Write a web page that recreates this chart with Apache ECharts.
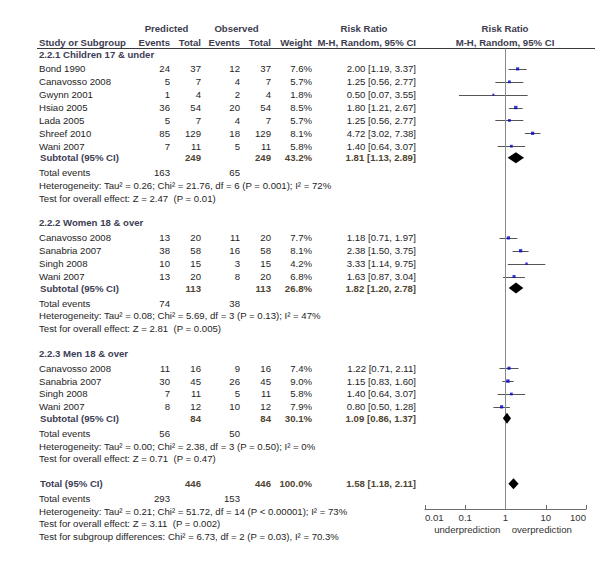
<!DOCTYPE html>
<html><head><meta charset="utf-8">
<script src="https://cdn.jsdelivr.net/npm/echarts@6/dist/echarts.min.js"></script>
<style>html,body{margin:0;padding:0;background:#fff}#c{width:600px;height:583px}</style>
</head><body><div id="c"></div>
<script>
// ---------- DATA ----------
const groupTitles = ['2.2.1 Children 17 & under', '2.2.2 Women 18 & over', '2.2.3 Men 18 & over'];
const studyGroup = [0,0,0,0,0,0,0,1,1,1,1,2,2,2,2];
const studyNames = ['Bond 1990','Canavosso 2008','Gwynn 2001','Hsiao 2005','Lada 2005','Shreef 2010','Wani 2007',
  'Canavosso 2008','Sanabria 2007','Singh 2008','Wani 2007',
  'Canavosso 2008','Sanabria 2007','Singh 2008','Wani 2007'];
const predEvents = [24,5,1,36,5,85,7, 13,38,10,13, 11,30,7,8];
const predTotal  = [37,7,4,54,7,129,11, 20,58,15,20, 16,45,11,12];
const obsEvents  = [12,4,2,20,4,18,5, 11,16,3,8, 9,26,5,10];
const obsTotal   = [37,7,4,54,7,129,11, 20,58,15,20, 16,45,11,12];
const weights    = [7.6,5.7,1.8,8.5,5.7,8.1,5.8, 7.7,8.1,4.2,6.8, 7.4,9.0,5.8,7.9];
const rr         = [2.00,1.25,0.50,1.80,1.25,4.72,1.40, 1.18,2.38,3.33,1.63, 1.22,1.15,1.40,0.80];
const rrLo       = [1.19,0.56,0.07,1.21,0.56,3.02,0.64, 0.71,1.50,1.14,0.87, 0.71,0.83,0.64,0.50];
const rrHi       = [3.37,2.77,3.55,2.67,2.77,7.38,3.07, 1.97,3.75,9.75,3.04, 2.11,1.60,3.07,1.28];

const subPredTotal  = [249,113,84];
const subObsTotal   = [249,113,84];
const subWeight     = [43.2,26.8,30.1];
const subRR         = [1.81,1.82,1.09];
const subLo         = [1.13,1.20,0.86];
const subHi         = [2.89,2.78,1.37];
const subPredEvents = [163,74,56];
const subObsEvents  = [65,38,50];
const subHet = [
  'Heterogeneity: Tau\u00b2 = 0.26; Chi\u00b2 = 21.76, df = 6 (P = 0.001); I\u00b2 = 72%',
  'Heterogeneity: Tau\u00b2 = 0.08; Chi\u00b2 = 5.69, df = 3 (P = 0.13); I\u00b2 = 47%',
  'Heterogeneity: Tau\u00b2 = 0.00; Chi\u00b2 = 2.38, df = 3 (P = 0.50); I\u00b2 = 0%'];
const subTest = [
  'Test for overall effect: Z = 2.47  (P = 0.01)',
  'Test for overall effect: Z = 2.81  (P = 0.005)',
  'Test for overall effect: Z = 0.71  (P = 0.47)'];

const totPredTotal = 446, totObsTotal = 446, totWeight = 100.0;
const totRR = 1.58, totLo = 1.18, totHi = 2.11;
const totPredEvents = 293, totObsEvents = 153;
const totHet = 'Heterogeneity: Tau\u00b2 = 0.21; Chi\u00b2 = 51.72, df = 14 (P < 0.00001); I\u00b2 = 73%';
const totTest = 'Test for overall effect: Z = 3.11  (P = 0.002)';
const totSub = 'Test for subgroup differences: Chi\u00b2 = 6.73, df = 2 (P = 0.03), I\u00b2 = 70.3%';

const axisTicks = [0.01, 0.1, 1, 10, 100];
const axisLabelsText = ['0.01', '0.1', '1', '10', '100'];
const sideLabels = ['underprediction', 'overprediction'];

// ---------- LAYOUT ----------
const FONT = '"Liberation Sans", Arial, sans-serif';
const FS = 9.6;
const X = {name: 39, pe: 170, pt: 201, oe: 240, ot: 271, w: 312, rr: 416};
const C_HEAD = '#3d3d4f', C_TXT = '#1e1e1e', C_SUB = '#3d3d55', C_SUBNUM = '#4f4430';

const fmt2 = v => v.toFixed(2);
const ci = (m, l, h) => fmt2(m) + ' [' + fmt2(l) + ', ' + fmt2(h) + ']';

// vertical placement of lines
let y = 54;
const studyY = [], subY = [], headY = [], teY = [], hetY = [], testY = [];
for (let g = 0; g < groupTitles.length; g++) {
  if (g > 0) y += 24.8;
  headY.push(y);
  let first = true;
  for (let i = 0; i < studyNames.length; i++) {
    if (studyGroup[i] !== g) continue;
    y += first ? 14.9 : 12.88; first = false;
    studyY[i] = y;
  }
  y += 11.5; subY.push(y);
  y += 15.1; teY.push(y);
  y += 12.8; hetY.push(y);
  y += 12.6; testY.push(y);
}
const totY = y + 24.8, totTEY = totY + 14.7, totHetY = totTEY + 12.8, totTestY = totHetY + 12.6, totSubY = totTestY + 12.6;

const texts = [];
function T(str, x, yy, opt) {
  opt = opt || {};
  texts.push({type: 'text', x: x, y: yy, silent: true, style: {
    text: String(str), x: 0, y: 0, textAlign: opt.align || 'left', textVerticalAlign: 'middle',
    font: (opt.bold ? 'bold ' : '') + FS + 'px ' + FONT, fill: opt.color || C_TXT }});
}
// headers
T('Predicted', 166.5, 28, {align: 'center', bold: true, color: C_HEAD});
T('Observed', 236.5, 28, {align: 'center', bold: true, color: C_HEAD});
T('Risk Ratio', 364, 28, {align: 'center', bold: true, color: C_HEAD});
T('Risk Ratio', 505, 28, {align: 'center', bold: true, color: C_HEAD});
T('Study or Subgroup', X.name, 42, {bold: true, color: C_HEAD});
T('Events', X.pe, 42, {align: 'right', bold: true, color: C_HEAD});
T('Total', X.pt, 42, {align: 'right', bold: true, color: C_HEAD});
T('Events', X.oe, 42, {align: 'right', bold: true, color: C_HEAD});
T('Total', X.ot, 42, {align: 'right', bold: true, color: C_HEAD});
T('Weight', X.w, 42, {align: 'right', bold: true, color: C_HEAD});
T('M-H, Random, 95% CI', X.rr, 42, {align: 'right', bold: true, color: C_HEAD});
T('M-H, Random, 95% CI', 505, 42, {align: 'center', bold: true, color: C_HEAD});

for (let g = 0; g < groupTitles.length; g++) {
  T(groupTitles[g], X.name, headY[g], {bold: true, color: C_SUB});
  T('Subtotal (95% CI)', X.name + 1, subY[g], {bold: true, color: C_SUB});
  T(subPredTotal[g], X.pt, subY[g], {align: 'right', bold: true, color: C_SUBNUM});
  T(subObsTotal[g], X.ot, subY[g], {align: 'right', bold: true, color: C_SUBNUM});
  T(subWeight[g].toFixed(1) + '%', X.w, subY[g], {align: 'right', bold: true, color: C_SUBNUM});
  T(ci(subRR[g], subLo[g], subHi[g]), X.rr, subY[g], {align: 'right', bold: true, color: C_SUBNUM});
  T('Total events', X.name, teY[g]);
  T(subPredEvents[g], X.pe, teY[g], {align: 'right'});
  T(subObsEvents[g], X.oe, teY[g], {align: 'right'});
  T(subHet[g], X.name, hetY[g]);
  T(subTest[g], X.name, testY[g]);
}
for (let i = 0; i < studyNames.length; i++) {
  const yy = studyY[i];
  T(studyNames[i], X.name, yy);
  T(predEvents[i], X.pe, yy, {align: 'right'});
  T(predTotal[i], X.pt, yy, {align: 'right'});
  T(obsEvents[i], X.oe, yy, {align: 'right'});
  T(obsTotal[i], X.ot, yy, {align: 'right'});
  T(weights[i].toFixed(1) + '%', X.w, yy, {align: 'right'});
  T(ci(rr[i], rrLo[i], rrHi[i]), X.rr, yy, {align: 'right'});
}
T('Total (95% CI)', X.name + 1, totY, {bold: true, color: C_SUB});
T(totPredTotal, X.pt, totY, {align: 'right', bold: true, color: C_SUBNUM});
T(totObsTotal, X.ot, totY, {align: 'right', bold: true, color: C_SUBNUM});
T(totWeight.toFixed(1) + '%', X.w, totY, {align: 'right', bold: true, color: C_SUBNUM});
T(ci(totRR, totLo, totHi), X.rr, totY, {align: 'right', bold: true, color: C_SUBNUM});
T('Total events', X.name, totTEY);
T(totPredEvents, X.pe, totTEY, {align: 'right'});
T(totObsEvents, X.oe, totTEY, {align: 'right'});
T(totHet, X.name, totHetY);
T(totTest, X.name, totTestY);
T(totSub, X.name, totSubY);

// ---------- SERIES DATA ----------
const ciData = studyNames.map((n, i) => [rrLo[i], rrHi[i], studyY[i]]);
const sqData = studyNames.map((n, i) => ({value: [rr[i], studyY[i]], symbolSize: Math.max(2, Math.sqrt(weights[i]) * 1.15)}));
const dmData = subRR.map((v, g) => [subLo[g], v, subHi[g], subY[g]]).concat([[totLo, totRR, totHi, totY]]);

const chart = echarts.init(document.getElementById('c'), null, {renderer: 'svg'});
const PL = 425, PW = 161;
const headerLine = {type: 'line', silent: true, shape: {x1: 37, y1: 48.5, x2: 595, y2: 48.5}, style: {stroke: '#3a3a3a', lineWidth: 1}};
chart.setOption({
  animation: false,
  backgroundColor: '#fff',
  grid: [
    {left: PL, width: PW, top: 0, bottom: 0},
    {left: PL, width: PW, top: 505, height: 4}
  ],
  xAxis: [
    {type: 'log', logBase: 10, min: 0.01, max: 100, gridIndex: 0, show: false},
    {type: 'log', logBase: 10, min: 0.01, max: 100, gridIndex: 1,
     axisLine: {lineStyle: {color: '#6b6b6b', width: 1}},
     axisTick: {inside: true, length: 4, lineStyle: {color: '#6b6b6b'}},
     splitLine: {show: false},
     axisLabel: {margin: 3, fontSize: FS, fontFamily: FONT, color: '#333',
       alignMinLabel: 'left', alignMaxLabel: 'right',
       formatter: v => { const k = axisTicks.findIndex(t => Math.abs(Math.log10(t) - Math.log10(v)) < 1e-6); return k >= 0 ? axisLabelsText[k] : ''; }}}
  ],
  yAxis: [
    {type: 'value', min: 0, max: 583, inverse: true, gridIndex: 0, show: false},
    {type: 'value', min: 0, max: 1, gridIndex: 1, show: false}
  ],
  graphic: texts.concat([headerLine]),
  series: [
    {type: 'custom', xAxisIndex: 0, yAxisIndex: 0, data: ciData, z: 3,
     renderItem: (p, api) => {
       const a = api.coord([api.value(0), api.value(2)]);
       const b = api.coord([api.value(1), api.value(2)]);
       return {type: 'line', shape: {x1: a[0], y1: Math.round(a[1]) + 0.5, x2: b[0], y2: Math.round(b[1]) + 0.5},
               style: {stroke: '#555', lineWidth: 1}};
     },
     markLine: {silent: true, symbol: 'none', label: {show: false},
       lineStyle: {color: '#8a8a8a', width: 1, type: 'solid'},
       data: [[{coord: [1, 48.5]}, {coord: [1, 509]}]]}
    },
    {type: 'scatter', xAxisIndex: 0, yAxisIndex: 0, symbol: 'rect', data: sqData, z: 4,
     itemStyle: {color: '#0000cc'}},
    {type: 'custom', xAxisIndex: 0, yAxisIndex: 0, data: dmData, z: 5,
     renderItem: (p, api) => {
       const yy = api.value(3);
       const l = api.coord([api.value(0), yy]);
       const m = api.coord([api.value(1), yy]);
       const r = api.coord([api.value(2), yy]);
       const h = 5.5;
       return {type: 'polygon', shape: {points: [[l[0], l[1]], [m[0], m[1] - h], [r[0], r[1]], [m[0], m[1] + h]]},
               style: {fill: '#000'}};
     }}
  ]
});
// side labels under axis, centred on 0.1 and 10
const x01 = chart.convertToPixel({xAxisIndex: 1}, 0.1);
const x10 = chart.convertToPixel({xAxisIndex: 1}, 10);
const extra = [
  {type: 'text', x: x01 + 2, y: 529, silent: true, style: {text: sideLabels[0], x: 0, y: 0, textAlign: 'center', textVerticalAlign: 'middle', font: FS + 'px ' + FONT, fill: '#333'}},
  {type: 'text', x: x10 - 4, y: 529, silent: true, style: {text: sideLabels[1], x: 0, y: 0, textAlign: 'center', textVerticalAlign: 'middle', font: FS + 'px ' + FONT, fill: '#333'}}
];
chart.setOption({graphic: texts.concat([headerLine]).concat(extra)});
</script>
</body></html>
